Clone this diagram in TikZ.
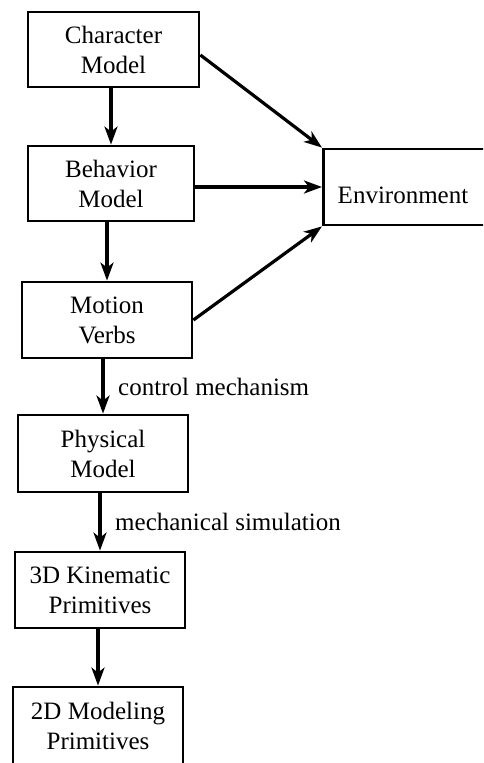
\documentclass[tikz,border=0pt]{standalone}
\usepackage{fontspec}
\setmainfont{Liberation Serif}
\usetikzlibrary{arrows.meta}
\begin{document}
\begin{tikzpicture}[x=1pt,y=-1pt,
  box/.style={draw, line width=2.8pt, minimum width=170pt, minimum height=76pt,
              align=center, inner sep=0pt, font=\fontsize{25}{30}\selectfont},
  arr/.style={line width=3.2pt, -{Stealth[length=18pt,width=13pt,inset=5pt]}},
  lbl/.style={font=\fontsize{25}{30}\selectfont, inner sep=0pt}]
\useasboundingbox (0,0) rectangle (483,763);
\begin{scope}
\clip (0,0) rectangle (483,763);

% pipeline boxes
\node[box, minimum width=171pt, minimum height=75pt] (char) at (113.5,49.5) {Character\\Model};
\node[box, minimum width=166pt, minimum height=75pt] (beh)  at (111,183.5) {Behavior\\Model};
\node[box] (mot)  at (107,320)   {Motion\\Verbs};
\node[box, minimum height=77pt] (phys) at (103,453.5) {Physical\\Model};
\node[box] (kin)  at (100,590)   {3D Kinematic\\Primitives};
\node[box, minimum height=78pt] (mod)  at (98,726) {2D Modeling\\Primitives};

% environment box runs off the right edge
\node[box, minimum width=180pt, anchor=west] (env) at (322,187) {};
\node[lbl, anchor=base] (envtxt) at (403,203) {Environment};

% vertical chain
\draw[arr] (beh.north |- char.south) -- (beh.north);
\draw[arr] (mot.north |- beh.south) -- (mot.north);
\draw[arr] (phys.north |- mot.south) -- (phys.north);
\draw[arr] (kin.north |- phys.south) -- (kin.north);
\draw[arr] (mod.north |- kin.south) -- (mod.north);

% links to the environment
\draw[arr] ([yshift=-5.5pt]char.east) -- (env.north west);
\draw[arr] (beh.east |- env.west) -- (env.west);
\draw[arr] (mot.east) -- (env.south west);

% edge labels
\node[lbl, anchor=base west] (ctl) at (118,395) {control mechanism};
\node[lbl, anchor=base west] (mech) at (115,530) {mechanical simulation};
\end{scope}
\end{tikzpicture}
\end{document}
